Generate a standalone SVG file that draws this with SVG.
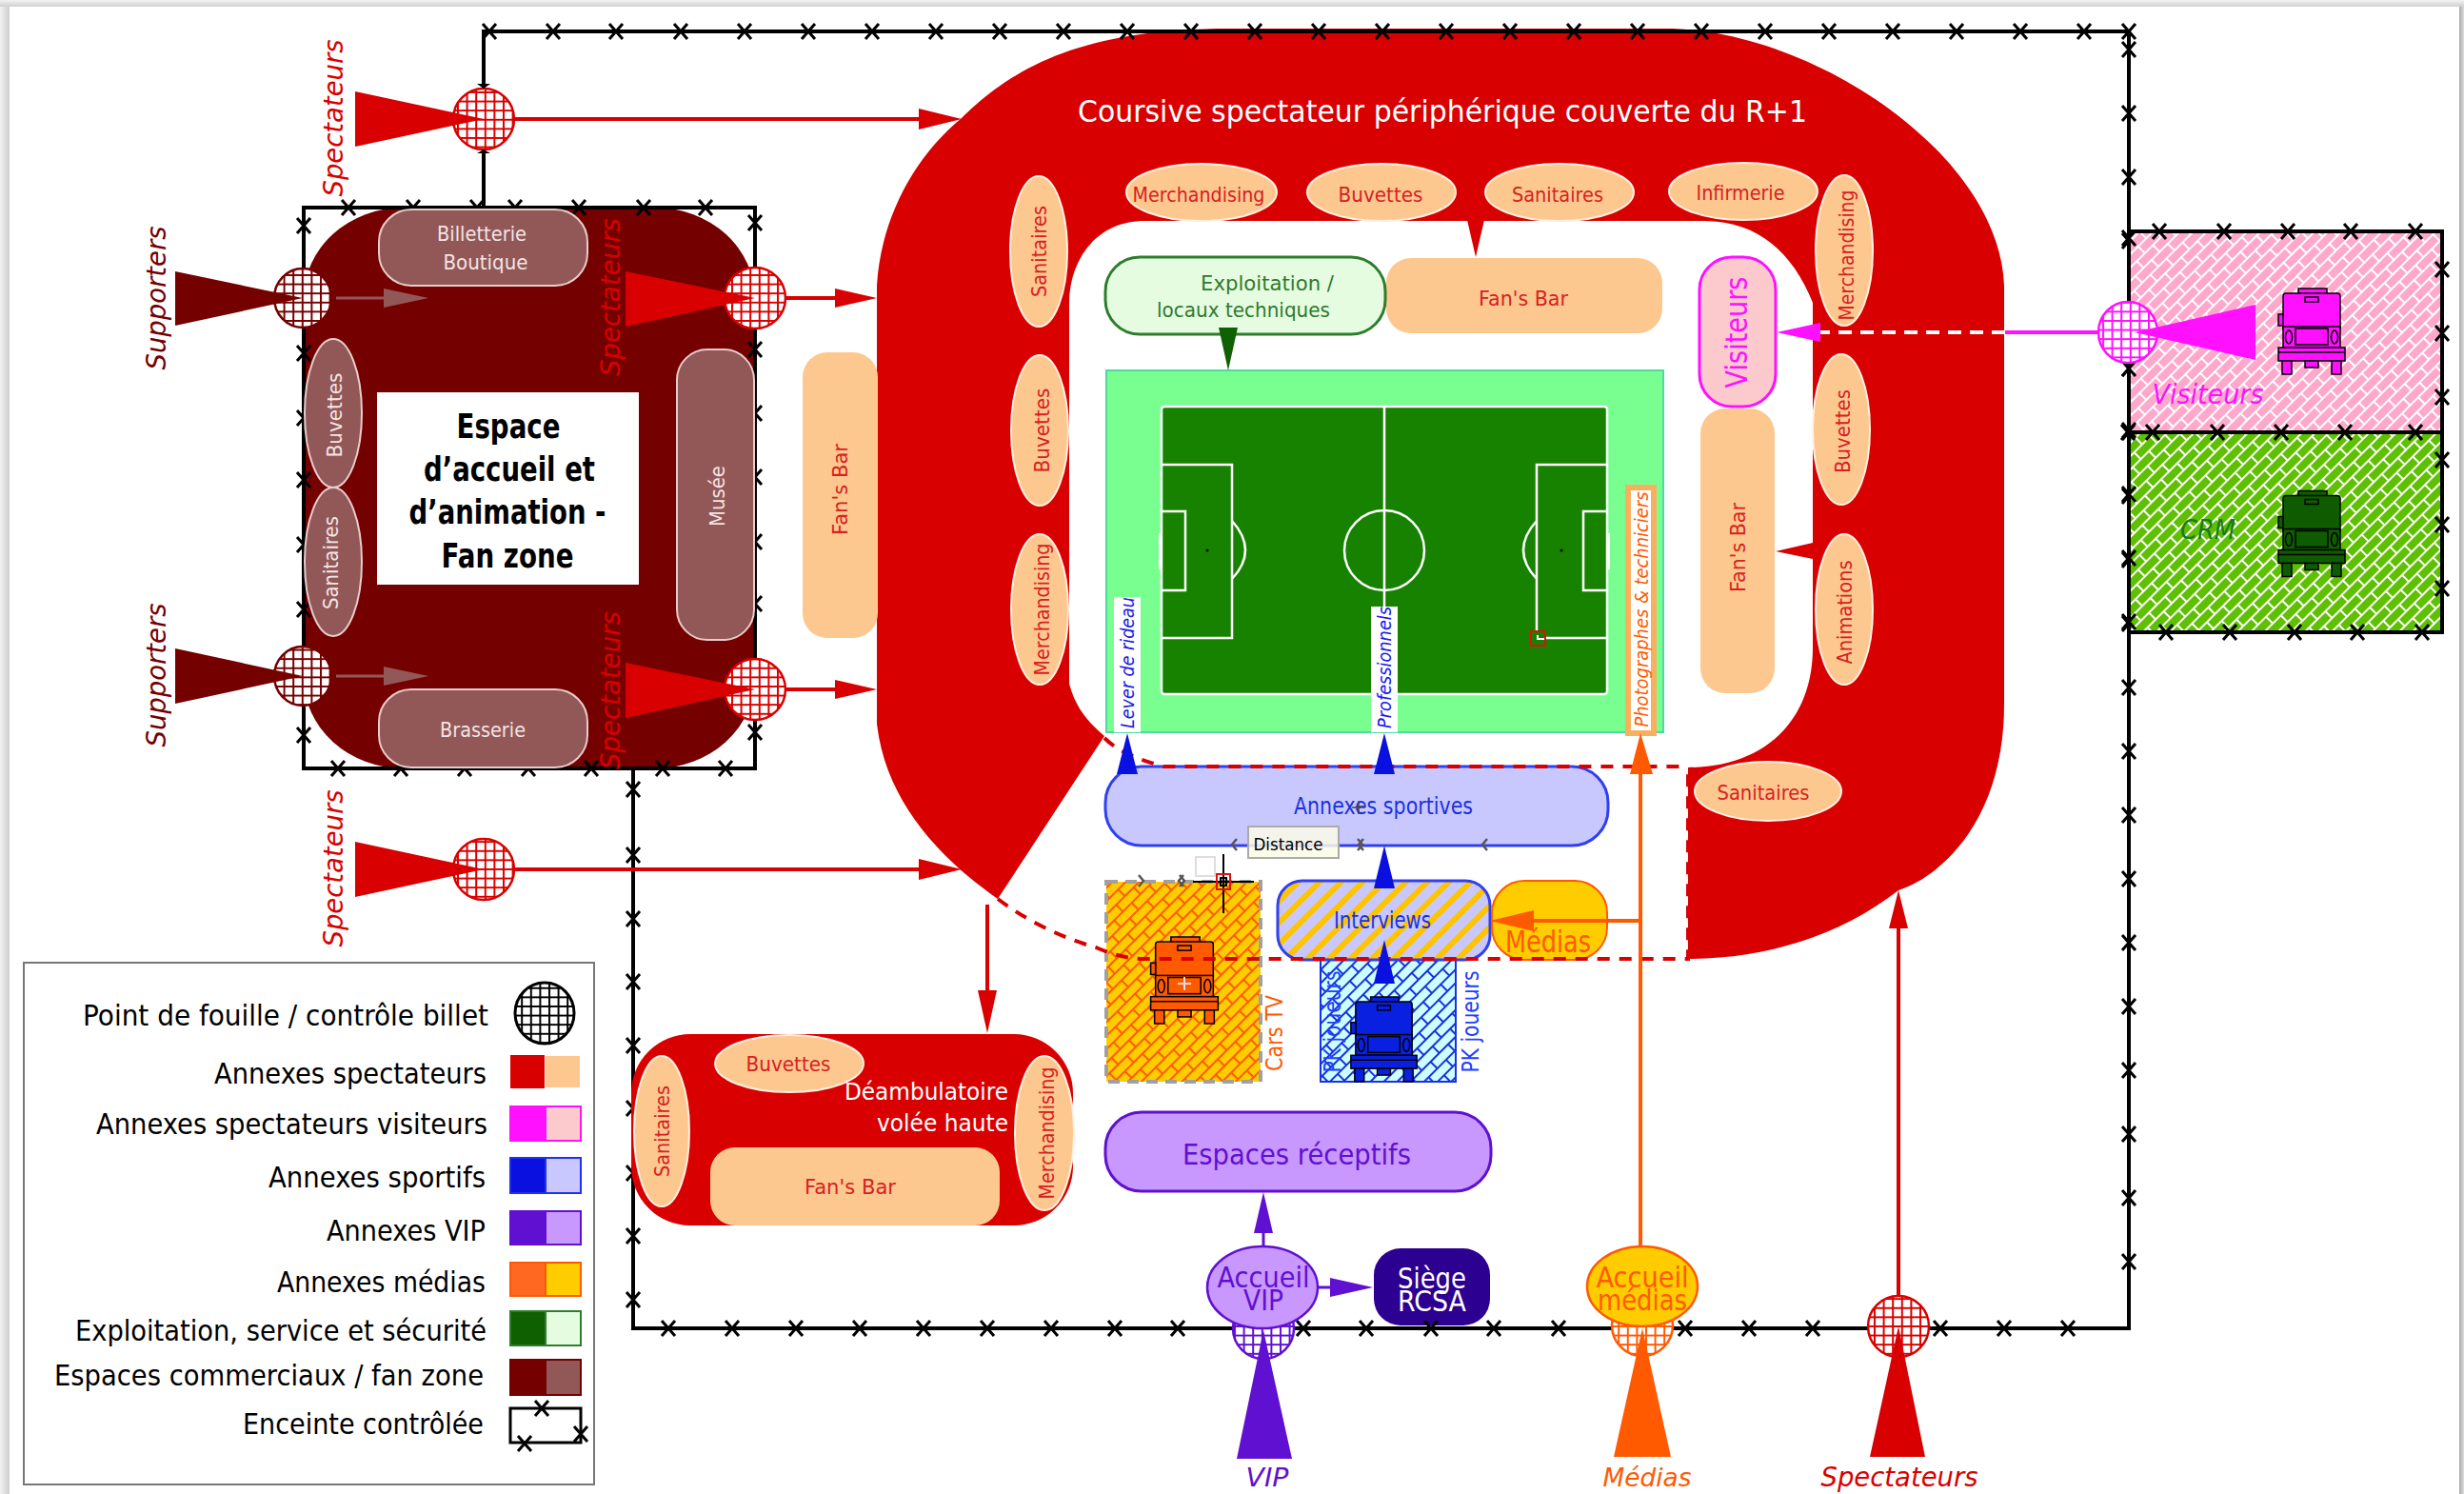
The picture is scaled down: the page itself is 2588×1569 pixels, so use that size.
<svg xmlns="http://www.w3.org/2000/svg" width="2588" height="1569" viewBox="0 0 2588 1569">
<style>
text{font-family:"DejaVu Sans","Liberation Sans",sans-serif;text-anchor:middle;dominant-baseline:central}
.peach{fill:#fdc890;stroke:#fff0e0;stroke-width:2}
.bar{fill:#fdc890}
.pt{fill:#d82020;font-size:22px}
.dk{fill:#925858;stroke:#e8cccc;stroke-width:2}
.wt{fill:#f4e4e4;font-size:22px}
.it{font-style:italic}
.fl{fill:none;stroke:#000;stroke-width:4}
.xs{fill:none;stroke:none;marker-start:url(#xm);marker-mid:url(#xm);marker-end:url(#xm)}
.lg{fill:#000;font-size:30px;text-anchor:end}
.pl{fill:none;stroke:#fff;stroke-width:2.5}
</style>
<defs>
<linearGradient id="edgeT" x1="0" y1="0" x2="0" y2="1"><stop offset="0" stop-color="#f2f2f2"/><stop offset="1" stop-color="#cfcfcf"/></linearGradient>
<linearGradient id="edgeL" x1="0" y1="0" x2="1" y2="0"><stop offset="0" stop-color="#f2f2f2"/><stop offset="1" stop-color="#cfcfcf"/></linearGradient>
<linearGradient id="edgeR" x1="0" y1="0" x2="1" y2="0"><stop offset="0" stop-color="#a8a8a8"/><stop offset="1" stop-color="#dedede"/></linearGradient>
<marker id="xm" markerUnits="userSpaceOnUse" markerWidth="24" markerHeight="24" refX="12" refY="12" overflow="visible"><path d="M5 4L19 20M19 4L5 20" stroke="#000" stroke-width="3" fill="none"/></marker>
<pattern id="gK" width="9.6" height="9.6" patternUnits="userSpaceOnUse"><rect width="9.6" height="9.6" fill="#fff"/><path d="M0 1H9.6M1 0V9.6" stroke="#000" stroke-width="2"/></pattern>
<pattern id="gR" width="9.6" height="9.6" patternUnits="userSpaceOnUse"><rect width="9.6" height="9.6" fill="#fff"/><path d="M0 1H9.6M1 0V9.6" stroke="#d80000" stroke-width="2"/></pattern>
<pattern id="gD" width="9.6" height="9.6" patternUnits="userSpaceOnUse"><rect width="9.6" height="9.6" fill="#fff"/><path d="M0 1H9.6M1 0V9.6" stroke="#750000" stroke-width="2"/></pattern>
<pattern id="gM" width="9.6" height="9.6" patternUnits="userSpaceOnUse"><rect width="9.6" height="9.6" fill="#fff"/><path d="M0 1H9.6M1 0V9.6" stroke="#ff10ff" stroke-width="2"/></pattern>
<pattern id="gV" width="9.6" height="9.6" patternUnits="userSpaceOnUse"><rect width="9.6" height="9.6" fill="#fff"/><path d="M0 1H9.6M1 0V9.6" stroke="#6010d0" stroke-width="2"/></pattern>
<pattern id="gO" width="9.6" height="9.6" patternUnits="userSpaceOnUse"><rect width="9.6" height="9.6" fill="#fff"/><path d="M0 1H9.6M1 0V9.6" stroke="#ff5a00" stroke-width="2"/></pattern>
<pattern id="bP" width="24" height="20" patternUnits="userSpaceOnUse" patternTransform="rotate(-45)"><rect width="24" height="20" fill="#ffa8cc"/><path d="M0 1H24M0 11H24M1 0V10M13 10V20" stroke="#fff" stroke-width="2"/></pattern>
<pattern id="bG" width="24" height="20" patternUnits="userSpaceOnUse" patternTransform="rotate(-45)"><rect width="24" height="20" fill="#5ec000"/><path d="M0 1H24M0 11H24M1 0V10M13 10V20" stroke="#fff" stroke-width="2"/></pattern>
<pattern id="bO" width="26" height="20" patternUnits="userSpaceOnUse" patternTransform="rotate(-45)"><rect width="26" height="20" fill="#ffcc00"/><path d="M0 1H26M0 11H26M1 0V10M14 10V20" stroke="#ff5a00" stroke-width="2"/></pattern>
<pattern id="bB" width="26" height="20" patternUnits="userSpaceOnUse" patternTransform="rotate(-45)"><rect width="26" height="20" fill="#ccffff"/><path d="M0 1H26M0 11H26M1 0V10M14 10V20" stroke="#1a30e0" stroke-width="2"/></pattern>
<pattern id="st" width="16" height="16" patternUnits="userSpaceOnUse" patternTransform="rotate(45)"><rect width="16" height="16" fill="#c8c8ff"/><rect width="6" height="16" fill="#ffc400"/></pattern>
<symbol id="truck" viewBox="0 0 70 90" width="70" height="90" overflow="visible">
<g fill="currentColor" stroke="#000" stroke-width="1.5">
<rect x="21" y="0" width="30" height="6"/>
<rect x="5" y="5" width="60" height="40" rx="3"/>
<rect x="28" y="9" width="14" height="5"/>
<rect x="0" y="27" width="5" height="12"/>
<rect x="5" y="40" width="60" height="22"/>
<ellipse cx="11" cy="51" rx="3.5" ry="7"/><ellipse cx="59" cy="51" rx="3.5" ry="7"/>
<rect x="18" y="42" width="34" height="17"/>
<rect x="0" y="62" width="70" height="14"/><path d="M0 67H70" fill="none"/>
<rect x="4" y="76" width="10" height="14"/><rect x="56" y="76" width="10" height="14"/><rect x="28" y="76" width="14" height="7"/>
</g></symbol>
</defs>

<rect width="2588" height="1569" fill="#fff"/>
<rect width="2588" height="7" fill="url(#edgeT)"/>
<rect y="7" width="10" height="1562" fill="url(#edgeL)"/>
<rect x="2583" y="7" width="5" height="1562" fill="url(#edgeR)"/>

<g id="stadium">
<path fill="#d80000" d="M921 300C925 230 960 165 1010 124C1060 75 1130 30 1290 30L1750 30C1900 30 2100 160 2105 300L2105 740C2105 860 2040 920 1994 935C1930 985 1850 1007 1773 1007L1773 806C1850 806 1904 760 1904 680L1904 318C1885 270 1850 232 1790 232L1202 232C1150 232 1123 275 1123 318L1123 718C1130 745 1145 760 1160 773L1048 944C985 900 930 840 921 760Z"/>
<text x="1515" y="117" fill="#fff" font-size="32" textLength="766" lengthAdjust="spacingAndGlyphs">Coursive spectateur périphérique couverte du R+1</text>
</g>
<g id="siege"><rect x="1443" y="1311" width="122" height="81" rx="28" fill="#2c0090"/><text x="1504" y="1342" fill="#fff" font-size="30" textLength="72" lengthAdjust="spacingAndGlyphs">Siège</text><text x="1504" y="1366" fill="#fff" font-size="30" textLength="72" lengthAdjust="spacingAndGlyphs">RCSA</text></g>

<g id="enceinte">
<path class="fl" d="M508 218V33H2236V1395H665V807"/>
<polyline class="xs" points="514,33 581,33 647,33 715,33 782,33 849,33 916,33 983,33 1050,33 1117,33 1184,33 1251,33 1318,33 1385,33 1452,33 1519,33 1586,33 1653,33 1720,33 1787,33 1854,33 1921,33 1988,33 2055,33 2122,33 2189,33 2236,33 2236,52 2236,119 2236,186 2236,253 2236,387 2236,454 2236,521 2236,588 2236,655 2236,722 2236,789 2236,856 2236,923 2236,990 2236,1057 2236,1124 2236,1191 2236,1258 2236,1325 2172,1395 2105,1395 2038,1395 1904,1395 1837,1395 1770,1395 1637,1395 1569,1395 1503,1395 1435,1395 1369,1395 1237,1395 1171,1395 1104,1395 1037,1395 970,1395 903,1395 836,1395 769,1395 702,1395 665,1365 665,1298 665,1232 665,1164 665,1098 665,1031 665,965 665,898 665,829"/>
<rect class="fl" x="2236" y="243" width="329" height="421"/>
</g>

<g id="fan-zone">
<rect x="319" y="218" width="474" height="589" rx="105" ry="95" fill="#750000"/>
<rect class="fl" x="319" y="218" width="474" height="589" fill="none"/>
<polyline class="xs" points="366,218 434,218 501,218 541,218 608,218 676,218 741,218 793,234 793,367 793,434 793,501 793,569 793,634 793,769 762,807 696,807 621,807 555,807 488,807 421,807 355,807 319,772 319,640 319,572 319,504 319,439 319,371 319,237"/>
<g id="billetterie"><rect class="dk" x="398" y="220" width="219" height="80" rx="34"/><text class="wt" x="506" y="245" textLength="94" lengthAdjust="spacingAndGlyphs">Billetterie</text><text class="wt" x="510" y="275" textLength="89" lengthAdjust="spacingAndGlyphs">Boutique</text></g>
<g id="brasserie"><rect class="dk" x="398" y="724" width="219" height="82" rx="34"/><text class="wt" x="507" y="766" textLength="90" lengthAdjust="spacingAndGlyphs">Brasserie</text></g>
<g id="musee"><rect class="dk" x="711" y="367" width="81" height="305" rx="32"/><text class="wt" transform="translate(753 521) rotate(-90)" textLength="64" lengthAdjust="spacingAndGlyphs">Musée</text></g>
<g id="fz-buvettes"><ellipse class="dk" cx="350" cy="434" rx="30" ry="78"/><text class="wt" transform="translate(351 436) rotate(-90)" textLength="89" lengthAdjust="spacingAndGlyphs">Buvettes</text></g>
<g id="fz-sanitaires"><ellipse class="dk" cx="350" cy="590" rx="30" ry="78"/><text class="wt" transform="translate(347 591) rotate(-90)" textLength="98" lengthAdjust="spacingAndGlyphs">Sanitaires</text></g>
<g id="fz-titre"><rect x="396" y="412" width="275" height="202" fill="#fff"/>
<g fill="#000" font-size="36" font-weight="bold" style="font-family:'Liberation Sans',sans-serif">
<text x="534" y="447" textLength="109" lengthAdjust="spacingAndGlyphs">Espace</text>
<text x="535" y="492" textLength="180" lengthAdjust="spacingAndGlyphs">d’accueil et</text>
<text x="533" y="537" textLength="207" lengthAdjust="spacingAndGlyphs">d’animation -</text>
<text x="533" y="583" textLength="139" lengthAdjust="spacingAndGlyphs">Fan zone</text>
</g></g>
</g>

<g id="annexes-spectateurs">
<g id="bar-gauche"><rect class="bar" x="843" y="370" width="79" height="300" rx="26"/><text class="pt" transform="translate(882 514) rotate(-90)" textLength="96" lengthAdjust="spacingAndGlyphs">Fan's Bar</text></g>
<g id="bar-haut"><rect class="bar" x="1456" y="271" width="290" height="79" rx="26"/><text class="pt" x="1600" y="313" textLength="94" lengthAdjust="spacingAndGlyphs">Fan's Bar</text></g>
<g id="bar-droit"><rect class="bar" x="1786" y="429" width="78" height="299" rx="26"/><text class="pt" transform="translate(1825 575) rotate(-90)" textLength="94" lengthAdjust="spacingAndGlyphs">Fan's Bar</text></g>
<g id="h-merch"><ellipse class="peach" cx="1262" cy="202" rx="79" ry="30"/><text class="pt" x="1259" y="204" textLength="139" lengthAdjust="spacingAndGlyphs">Merchandising</text></g>
<g id="h-buv"><ellipse class="peach" cx="1451" cy="202" rx="78" ry="30"/><text class="pt" x="1450" y="204" textLength="89" lengthAdjust="spacingAndGlyphs">Buvettes</text></g>
<g id="h-san"><ellipse class="peach" cx="1638" cy="202" rx="78" ry="30"/><text class="pt" x="1636" y="204" textLength="96" lengthAdjust="spacingAndGlyphs">Sanitaires</text></g>
<g id="h-inf"><ellipse class="peach" cx="1831" cy="201" rx="78" ry="30"/><text class="pt" x="1828" y="202" textLength="93" lengthAdjust="spacingAndGlyphs">Infirmerie</text></g>
<g id="g-san"><ellipse class="peach" cx="1091" cy="264" rx="30" ry="79"/><text class="pt" transform="translate(1091 264) rotate(-90)" textLength="96" lengthAdjust="spacingAndGlyphs">Sanitaires</text></g>
<g id="g-buv"><ellipse class="peach" cx="1092" cy="452" rx="30" ry="79"/><text class="pt" transform="translate(1094 452) rotate(-90)" textLength="89" lengthAdjust="spacingAndGlyphs">Buvettes</text></g>
<g id="g-merch"><ellipse class="peach" cx="1092" cy="640" rx="30" ry="79"/><text class="pt" transform="translate(1094 640) rotate(-90)" textLength="139" lengthAdjust="spacingAndGlyphs">Merchandising</text></g>
<g id="d-merch"><ellipse class="peach" cx="1937" cy="263" rx="30" ry="79"/><text class="pt" transform="translate(1939 268) rotate(-90)" textLength="137" lengthAdjust="spacingAndGlyphs">Merchandising</text></g>
<g id="d-buv"><ellipse class="peach" cx="1934" cy="451" rx="30" ry="79"/><text class="pt" transform="translate(1935 453) rotate(-90)" textLength="88" lengthAdjust="spacingAndGlyphs">Buvettes</text></g>
<g id="d-anim"><ellipse class="peach" cx="1937" cy="640" rx="30" ry="79"/><text class="pt" transform="translate(1937 643) rotate(-90)" textLength="109" lengthAdjust="spacingAndGlyphs">Animations</text></g>
<g id="b-san"><ellipse class="peach" cx="1857" cy="831" rx="77" ry="31"/><text class="pt" x="1852" y="832" textLength="97" lengthAdjust="spacingAndGlyphs">Sanitaires</text></g>
</g>

<g id="field">
<rect x="1162" y="389" width="585" height="380" fill="#78ff90" stroke="#50d8a0" stroke-width="2"/>
<rect x="1220" y="427" width="468" height="302" rx="3" fill="#178200" stroke="#fff" stroke-width="2.5"/>
<path class="pl" d="M1454 427V729M1220 488H1294V670H1220M1220 537H1245V620H1220M1688 488H1614V670H1688M1688 537H1663V620H1688M1294 547Q1322 578 1294 608M1614 547Q1586 578 1614 608"/>
<ellipse class="pl" cx="1454" cy="578" rx="42" ry="42"/>
<rect x="1217" y="560" width="4" height="38" fill="#fff"/><rect x="1687" y="560" width="4" height="38" fill="#fff"/>
<circle cx="1268" cy="578" r="1.5" fill="#000"/><circle cx="1640" cy="578" r="1.5" fill="#000"/>
<rect x="1608" y="663" width="15" height="15" fill="#178200" stroke="#e01010" stroke-width="2"/><path d="M1615 667V671H1622" fill="none" stroke="#fff" stroke-width="2"/>
<g id="lever"><rect x="1170" y="627" width="28" height="142" fill="#fff"/><text class="it" fill="#1a20e8" font-size="20" transform="translate(1184 696) rotate(-90)" textLength="138" lengthAdjust="spacingAndGlyphs">Lever de rideau</text></g>
<g id="pros"><rect x="1440" y="637" width="28" height="132" fill="#fff"/><text class="it" fill="#1a20e8" font-size="20" transform="translate(1454 701) rotate(-90)" textLength="128" lengthAdjust="spacingAndGlyphs">Professionnels</text></g>
<g id="photo"><rect x="1710" y="512" width="27" height="258" fill="#fff" stroke="#f8b060" stroke-width="6"/><text class="it" fill="#ff5a00" font-size="20" transform="translate(1724 640) rotate(-90)" textLength="247" lengthAdjust="spacingAndGlyphs">Photographes &amp; techniciers</text></g>
</g>

<g id="exploitation"><rect x="1161" y="270" width="294" height="81" rx="36" fill="#e6fce0" stroke="#2e7d2e" stroke-width="3"/><text fill="#2d7a2d" font-size="21" x="1331" y="298" textLength="140" lengthAdjust="spacingAndGlyphs">Exploitation  /</text><text fill="#2d7a2d" font-size="21" x="1306" y="326" textLength="182" lengthAdjust="spacingAndGlyphs">locaux  techniques</text></g>
<g id="visiteurs-box"><rect x="1785" y="270" width="80" height="157" rx="34" fill="#fccacc" stroke="#ff10ff" stroke-width="3"/><text fill="#ff10ff" font-size="32" transform="translate(1824 349) rotate(-90)" textLength="117" lengthAdjust="spacingAndGlyphs">Visiteurs</text></g>

<g id="deambulatoire">
<rect x="663" y="1086" width="464" height="201" rx="62" fill="#d80000"/>
<text x="1059" y="1147" fill="#fff" font-size="24" style="text-anchor:end" textLength="172" lengthAdjust="spacingAndGlyphs">Déambulatoire</text>
<text x="1059" y="1180" fill="#fff" font-size="24" style="text-anchor:end" textLength="138" lengthAdjust="spacingAndGlyphs">volée haute</text>
<g id="dm-bar"><rect class="bar" x="746" y="1205" width="304" height="82" rx="26"/><text class="pt" x="893" y="1246" textLength="96" lengthAdjust="spacingAndGlyphs">Fan's Bar</text></g>
<g id="dm-san"><ellipse class="peach" cx="695" cy="1188" rx="29" ry="79"/><text class="pt" transform="translate(695 1188) rotate(-90)" textLength="96" lengthAdjust="spacingAndGlyphs">Sanitaires</text></g>
<g id="dm-buv"><ellipse class="peach" cx="829" cy="1117" rx="78" ry="30"/><text class="pt" x="828" y="1117" textLength="89" lengthAdjust="spacingAndGlyphs">Buvettes</text></g>
<g id="dm-merch"><ellipse class="peach" cx="1097" cy="1190" rx="31" ry="81"/><text class="pt" transform="translate(1099 1190) rotate(-90)" textLength="139" lengthAdjust="spacingAndGlyphs">Merchandising</text></g>
</g>

<g id="annexes-sportives"><rect x="1161" y="805" width="528" height="83" rx="38" fill="#c8c8ff" stroke="#3040f0" stroke-width="3"/><text fill="#1a30e0" font-size="24" x="1453" y="847" textLength="188" lengthAdjust="spacingAndGlyphs">Annexes  sportives</text></g>
<g id="cars-tv"><rect x="1162" y="926" width="162" height="210" fill="url(#bO)" stroke="#a0a0a0" stroke-width="4" stroke-dasharray="12 8"/><use href="#truck" x="1208" y="984" width="72" height="91" style="color:#ff5a00"/><path d="M1244 1026V1040M1237 1033H1251" stroke="#ddd" stroke-width="2"/><text fill="#ff5a00" font-size="24" transform="translate(1339 1085) rotate(-90)" textLength="80" lengthAdjust="spacingAndGlyphs">Cars TV</text></g>
<g id="pk-joueurs"><rect x="1387" y="1008" width="142" height="128" fill="url(#bB)" stroke="#1a30e0" stroke-width="2"/><text fill="#2040ff" font-size="24" transform="translate(1400 1073) rotate(-90)" textLength="107" lengthAdjust="spacingAndGlyphs">PK joueurs</text><use href="#truck" x="1417" y="1047" width="73" height="89" style="color:#0a20e0"/><text fill="#2040ff" font-size="24" transform="translate(1545 1073) rotate(-90)" textLength="107" lengthAdjust="spacingAndGlyphs">PK joueurs</text></g>
<g id="interviews"><rect x="1342" y="925" width="223" height="83" rx="26" fill="url(#st)" stroke="#3040f0" stroke-width="3"/><text fill="#1a30e0" font-size="24" x="1452" y="967" textLength="102" lengthAdjust="spacingAndGlyphs">Interviews</text></g>
<g id="medias"><rect x="1567" y="925" width="121" height="83" rx="34" fill="#ffcc00" stroke="#ff5a00" stroke-width="2"/><text fill="#ff5a00" font-size="32" x="1626" y="989" textLength="90" lengthAdjust="spacingAndGlyphs">Médias</text></g>
<g id="espaces-receptifs"><rect x="1161" y="1168" width="405" height="83" rx="38" fill="#c898ff" stroke="#6010d0" stroke-width="3"/><text fill="#6010d0" font-size="30" x="1362" y="1212" textLength="240" lengthAdjust="spacingAndGlyphs">Espaces réceptifs</text></g>

<g id="outil-distance">
<rect x="1311" y="868" width="95" height="33" fill="#fbfbe8" fill-opacity=".85" stroke="#aaa" stroke-width="2"/><text x="1353" y="886" fill="#000" font-size="18" textLength="73" lengthAdjust="spacingAndGlyphs">Distance</text>
<rect x="1256" y="900" width="20" height="20" fill="#fff" stroke="#ddd" stroke-width="2"/>
<path d="M1253 926H1317M1285 897V959" stroke="#000" stroke-width="2" fill="none"/>
<rect x="1278" y="918" width="14" height="16" fill="none" stroke="#e01010" stroke-width="2"/><rect x="1282" y="922" width="6" height="8" fill="none" stroke="#000" stroke-width="2"/>
<path d="M1299 881L1294 887L1299 893M1562 881L1557 887L1562 893M1426 881L1431 887L1426 893M1432 881L1427 887L1432 893M1196 919L1201 925L1196 931M1239 919L1244 925L1239 931M1243 919L1238 925L1243 931" stroke="#555" stroke-width="2.5" fill="none"/>
<path d="M1427 841V855M1420 848H1434" stroke="#444" stroke-width="1.5" fill="none"/>
</g>

<g id="zones-bus">
<g id="visiteurs-zone"><rect x="2236" y="243" width="329" height="211" fill="url(#bP)" stroke="#000" stroke-width="4"/><use href="#truck" x="2393" y="303" width="70" height="90" style="color:#ff10ff"/><text class="it" fill="#ff10ff" font-size="28" x="2319" y="414" textLength="117" lengthAdjust="spacingAndGlyphs">Visiteurs</text></g>
<g id="crm-zone"><rect x="2236" y="454" width="329" height="210" fill="url(#bG)" stroke="#000" stroke-width="4"/><use href="#truck" x="2393" y="515" width="70" height="91" style="color:#0f5c00"/><text class="it" fill="#1a7a1a" font-size="28" x="2319" y="556" textLength="58" lengthAdjust="spacingAndGlyphs">CRM</text></g>
<polyline class="xs" points="2268,243 2336,243 2403,243 2469,243 2537,243 2565,283 2565,350 2565,417 2537,454 2463,454 2396,454 2329,454 2261,454 2235,454 2565,483 2565,551 2565,618 2544,664 2476,664 2410,664 2342,664 2275,664 2236,653 2236,586 2236,519 2236,452 2236,387 2236,250"/>
</g>

<g id="points-controle">
<ellipse cx="508" cy="125" rx="32" ry="32" fill="url(#gR)" stroke="#d80000" stroke-width="2.5"/>
<ellipse cx="318" cy="313" rx="30" ry="31" fill="url(#gD)" stroke="#750000" stroke-width="2.5"/>
<ellipse cx="318" cy="710" rx="30" ry="31" fill="url(#gD)" stroke="#750000" stroke-width="2.5"/>
<ellipse cx="793" cy="313" rx="32" ry="32" fill="url(#gR)" stroke="#d80000" stroke-width="2.5"/>
<ellipse cx="793" cy="724" rx="32" ry="32" fill="url(#gR)" stroke="#d80000" stroke-width="2.5"/>
<ellipse cx="508" cy="913" rx="32" ry="32" fill="url(#gR)" stroke="#d80000" stroke-width="2.5"/>
<ellipse cx="2235" cy="349" rx="31" ry="32" fill="url(#gM)" stroke="#ff10ff" stroke-width="2.5"/>
<ellipse cx="1327" cy="1395" rx="32" ry="32" fill="url(#gV)" stroke="#6010d0" stroke-width="2.5"/>
<ellipse cx="1725" cy="1392" rx="32" ry="32" fill="url(#gO)" stroke="#ff5a00" stroke-width="2.5"/>
<ellipse cx="1994" cy="1393" rx="32" ry="32" fill="url(#gR)" stroke="#d80000" stroke-width="2.5"/>
</g>
<g id="accueil-vip"><ellipse cx="1326" cy="1352" rx="58" ry="43" fill="#c898ff" stroke="#6010d0" stroke-width="2.5"/><text fill="#6010d0" font-size="30" x="1327" y="1341" textLength="97" lengthAdjust="spacingAndGlyphs">Accueil</text><text fill="#6010d0" font-size="30" x="1327" y="1365" textLength="42" lengthAdjust="spacingAndGlyphs">VIP</text></g>
<g id="accueil-medias"><ellipse cx="1725" cy="1351" rx="58" ry="42" fill="#ffcc00" stroke="#ff5a00" stroke-width="2.5"/><text fill="#ff5a00" font-size="30" x="1725" y="1341" textLength="97" lengthAdjust="spacingAndGlyphs">Accueil</text><text fill="#ff5a00" font-size="30" x="1725" y="1365" textLength="94" lengthAdjust="spacingAndGlyphs">médias</text></g>

<g id="connectors">
<path d="M1160 775C1175 790 1195 797 1222 805H1773M1048 944C1075 965 1115 985 1151 995C1170 1003 1185 1007 1202 1007H1773V806" fill="none" stroke="#d80000" stroke-width="4" stroke-dasharray="13 10"/>
<g fill="none" stroke="#d80000" stroke-width="4"><path d="M540 125H970M826 313H880M826 724H880M540 913H970M1037 950V1045M1994 1361V970"/></g>
<path d="M353 313H405M353 710H405" fill="none" stroke="#925858" stroke-width="3"/>
<path d="M1723 1309V810M1723 967H1608" fill="none" stroke="#ff5a00" stroke-width="4"/>
<path d="M1327 1309V1292M1385 1352H1400" fill="none" stroke="#6010d0" stroke-width="3"/>
<path d="M2204 349H2106" fill="none" stroke="#ff10ff" stroke-width="4"/>
<path d="M2106 349H1905" fill="none" stroke="#fff" stroke-width="4" stroke-dasharray="14 9"/>
<path d="M508 65V90M508 218V160" fill="none" stroke="#000" stroke-width="3"/>
<g fill="#000"><path d="M501 88H515L508 93ZM501 161L508 157L515 161Z"/></g>
<g fill="#d80000">
<path d="M373 96V154L508 125ZM657 285V343L793 313ZM657 696V754L793 724ZM373 884V942L508 913ZM1964 1530H2022L1994 1393Z"/>
<path d="M965 114V136L1010 125ZM965 902V924L1010 913ZM877 303V323L921 313ZM877 714V734L921 724ZM1027 1040H1047L1037 1085ZM1984 975H2004L1994 935ZM1541 231H1559L1550 270ZM1904 570V587L1865 579Z"/>
</g>
<g fill="#750000"><path d="M184 285V342L318 313ZM184 681V739L318 710Z"/></g>
<g fill="#925858"><path d="M403 303V323L450 313ZM403 700V720L450 710Z"/></g>
<path fill="#ff10ff" d="M2369 320V378L2242 349ZM1912 339V359L1866 349Z"/>
<path fill="#6010d0" d="M1299 1532H1357L1327 1397ZM1317 1295H1337L1327 1252ZM1397 1342V1362L1442 1352Z"/>
<path fill="#ff5a00" d="M1695 1530H1755L1725 1395ZM1712 813H1736L1723 770ZM1611 956V978L1565 967Z"/>
<path fill="#0a10e0" d="M1173 813H1195L1184 770ZM1443 813H1465L1454 770ZM1443 933H1465L1454 888ZM1443 1033H1465L1454 987Z"/>
<path fill="#0f6000" d="M1280 344H1300L1290 389Z"/>
</g>

<g id="flux-labels">
<g fill="#d80000" font-size="28" font-style="italic">
<text transform="translate(350 124) rotate(-90)" textLength="165" lengthAdjust="spacingAndGlyphs">Spectateurs</text>
<text transform="translate(641 312) rotate(-90)" textLength="166" lengthAdjust="spacingAndGlyphs">Spectateurs</text>
<text transform="translate(641 725) rotate(-90)" textLength="166" lengthAdjust="spacingAndGlyphs">Spectateurs</text>
<text transform="translate(350 912) rotate(-90)" textLength="165" lengthAdjust="spacingAndGlyphs">Spectateurs</text>
<text x="1995" y="1551" textLength="165" lengthAdjust="spacingAndGlyphs">Spectateurs</text>
</g>
<g fill="#750000" font-size="28" font-style="italic">
<text transform="translate(164 313) rotate(-90)" textLength="151" lengthAdjust="spacingAndGlyphs">Supporters</text>
<text transform="translate(164 709) rotate(-90)" textLength="151" lengthAdjust="spacingAndGlyphs">Supporters</text>
</g>
<text x="1331" y="1552" fill="#6010d0" font-size="26" font-style="italic" textLength="45" lengthAdjust="spacingAndGlyphs">VIP</text>
<text x="1730" y="1552" fill="#ff5a00" font-size="26" font-style="italic" textLength="93" lengthAdjust="spacingAndGlyphs">Médias</text>
</g>

<g id="legende">
<rect x="25" y="1011" width="599" height="548" fill="#fff" stroke="#777" stroke-width="2"/>
<text class="lg" x="513" y="1066" textLength="426" lengthAdjust="spacingAndGlyphs">Point de fouille / contrôle billet</text>
<text class="lg" x="511" y="1127" textLength="286" lengthAdjust="spacingAndGlyphs">Annexes spectateurs</text>
<text class="lg" x="512" y="1180" textLength="411" lengthAdjust="spacingAndGlyphs">Annexes spectateurs visiteurs</text>
<text class="lg" x="510" y="1236" textLength="228" lengthAdjust="spacingAndGlyphs">Annexes sportifs</text>
<text class="lg" x="510" y="1292" textLength="167" lengthAdjust="spacingAndGlyphs">Annexes VIP</text>
<text class="lg" x="510" y="1346" textLength="219" lengthAdjust="spacingAndGlyphs">Annexes médias</text>
<text class="lg" x="511" y="1397" textLength="432" lengthAdjust="spacingAndGlyphs">Exploitation, service et sécurité</text>
<text class="lg" x="508" y="1444" textLength="451" lengthAdjust="spacingAndGlyphs">Espaces commerciaux / fan zone</text>
<text class="lg" x="508" y="1495" textLength="253" lengthAdjust="spacingAndGlyphs">Enceinte contrôlée</text>
<ellipse cx="572" cy="1064" rx="31" ry="32" fill="url(#gK)" stroke="#000" stroke-width="3"/>
<rect x="536" y="1108" width="36" height="35" fill="#d80000"/><rect x="573" y="1109" width="36" height="33" fill="#fdc890"/>
<rect x="536" y="1162" width="37" height="36" fill="#ff10ff" stroke="#ff10ff" stroke-width="2"/><rect x="573" y="1162" width="37" height="36" fill="#fccacc" stroke="#ff10ff" stroke-width="2"/>
<rect x="536" y="1216" width="37" height="37" fill="#0a10e0" stroke="#2030f0" stroke-width="2"/><rect x="573" y="1216" width="37" height="37" fill="#c8c8ff" stroke="#2030f0" stroke-width="2"/>
<rect x="536" y="1272" width="37" height="35" fill="#6010d0" stroke="#6010d0" stroke-width="2"/><rect x="573" y="1272" width="37" height="35" fill="#c898ff" stroke="#6010d0" stroke-width="2"/>
<rect x="536" y="1326" width="37" height="35" fill="#ff6820" stroke="#ff5a00" stroke-width="2"/><rect x="573" y="1326" width="37" height="35" fill="#ffcc00" stroke="#ff5a00" stroke-width="2"/>
<rect x="536" y="1377" width="37" height="36" fill="#0f6000" stroke="#2e7d2e" stroke-width="2"/><rect x="573" y="1377" width="37" height="36" fill="#e6fce0" stroke="#2e7d2e" stroke-width="2"/>
<rect x="536" y="1428" width="37" height="37" fill="#750000" stroke="#750000" stroke-width="2"/><rect x="573" y="1428" width="37" height="37" fill="#925858" stroke="#750000" stroke-width="2"/>
<rect x="536" y="1479" width="74" height="36" fill="none" stroke="#000" stroke-width="3"/>
<polyline class="xs" points="569,1479 610,1506 551,1516"/>
</g>
</svg>
